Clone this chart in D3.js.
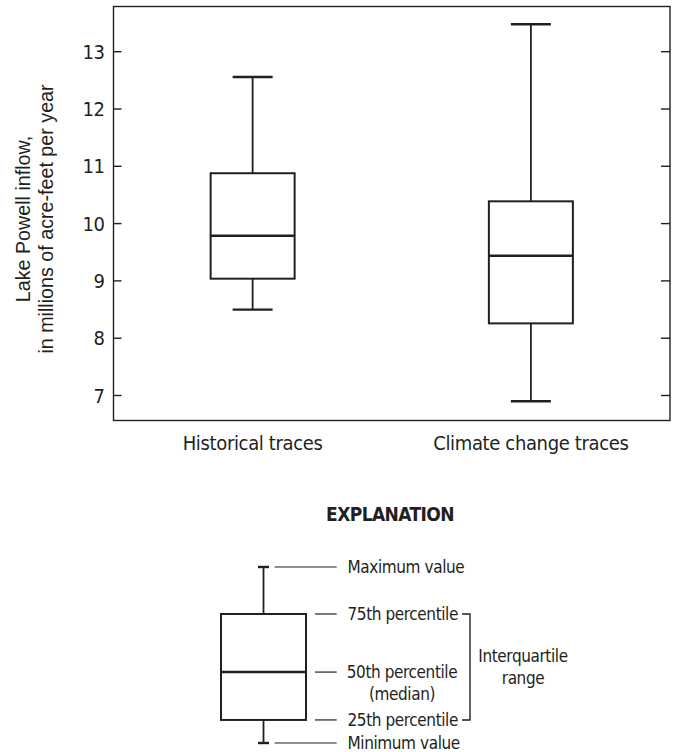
<!DOCTYPE html>
<html>
<head>
<meta charset="utf-8">
<script src="https://cdn.jsdelivr.net/npm/d3@7"></script>
<style>
  html, body { margin: 0; padding: 0; background: #fff; }
  svg { display: block; }
  .cond { font-family: "Liberation Sans Narrow", "DejaVu Sans Condensed", "Roboto", sans-serif; }
  .reg { font-family: "Liberation Sans", "Arial", sans-serif; }
</style>
</head>
<body>
<svg id="chart" width="678" height="752"></svg>
<script>
// ---- data ----
const categories = ["Historical traces", "Climate change traces"];
const minValues    = [8.49, 6.89];
const q1Values     = [9.03, 8.25];
const medianValues = [9.78, 9.43];
const q3Values     = [10.87, 10.38];
const maxValues    = [12.55, 13.47];
const yTicks = [7, 8, 9, 10, 11, 12, 13];
const yDomain = [6.555, 13.78];
const yTitleLines = ["Lake Powell inflow,", "in millions of acre-feet per year"];

// explanation (legend) sample box, in arbitrary units
const legendStats = { min: 0, q1: 1.31, median: 4.03, q3: 7.33, max: 10 };
const legendLabels = [
  { key: "max", lines: ["Maximum value"] },
  { key: "q3", lines: ["75th percentile"] },
  { key: "median", lines: ["50th percentile", "(median)"] },
  { key: "q1", lines: ["25th percentile"] },
  { key: "min", lines: ["Minimum value"] }
];

const ink = "#231f20";
const svg = d3.select("#chart");

// ---- main plot ----
const plot = { left: 113.5, right: 670, top: 6.5, bottom: 420.5 };
const x = d3.scaleBand().domain(categories).range([plot.left, plot.right]).paddingInner(0).paddingOuter(0);
const y = d3.scaleLinear().domain(yDomain).range([plot.bottom, plot.top]);

const boxW = 84, capW = 40;

// frame
svg.append("rect")
  .attr("x", plot.left).attr("y", plot.top)
  .attr("width", plot.right - plot.left).attr("height", plot.bottom - plot.top)
  .attr("fill", "none").attr("stroke", ink).attr("stroke-width", 1.4);

// left axis
const yAxisL = d3.axisLeft(y).tickValues(yTicks).tickSizeInner(-8).tickSizeOuter(0).tickPadding(9).tickFormat(d3.format("d"));
const gL = svg.append("g").attr("transform", `translate(${plot.left},0)`).call(yAxisL);
gL.select(".domain").remove();
gL.selectAll(".tick line").attr("stroke", ink).attr("stroke-width", 1.4);
gL.selectAll(".tick text").attr("class", "cond").attr("font-size", 20).attr("letter-spacing", -0.5).attr("fill", ink).attr("dy", "0.35em");

// right axis ticks
const yAxisR = d3.axisRight(y).tickValues(yTicks).tickSizeInner(-9).tickSizeOuter(0).tickFormat("");
const gR = svg.append("g").attr("transform", `translate(${plot.right},0)`).call(yAxisR);
gR.select(".domain").remove();
gR.selectAll(".tick line").attr("stroke", ink).attr("stroke-width", 1.4);

// category labels
svg.append("g").selectAll("text").data(categories).join("text")
  .attr("class", "cond")
  .attr("x", d => x(d) + x.bandwidth() / 2)
  .attr("y", 450)
  .attr("text-anchor", "middle")
  .attr("font-size", 20)
  .attr("letter-spacing", -0.35)
  .attr("fill", ink)
  .text(d => d);

// y title
const yt = svg.append("text").attr("class", "reg")
  .attr("transform", `translate(0,219) rotate(-90)`)
  .attr("text-anchor", "middle").attr("font-size", 19.7).attr("fill", ink);
yTitleLines.forEach((t, i) => {
  yt.append("tspan").attr("x", 0).attr("y", 30 + i * 23).text(t);
});

// boxes
const boxes = categories.map((c, i) => ({
  cat: c, min: minValues[i], q1: q1Values[i], median: medianValues[i], q3: q3Values[i], max: maxValues[i]
}));

function drawBox(g, d, cx, ys, bw, cw, opts) {
  g.append("line").attr("x1", cx).attr("x2", cx).attr("y1", ys(d.max)).attr("y2", ys(d.q3))
    .attr("stroke", ink).attr("stroke-width", opts.whisker);
  g.append("line").attr("x1", cx).attr("x2", cx).attr("y1", ys(d.q1)).attr("y2", ys(d.min))
    .attr("stroke", ink).attr("stroke-width", opts.whisker);
  [d.max, d.min].forEach(v => {
    g.append("line").attr("x1", cx - cw / 2).attr("x2", cx + cw / 2).attr("y1", ys(v)).attr("y2", ys(v))
      .attr("stroke", ink).attr("stroke-width", opts.cap);
  });
  g.append("rect").attr("x", cx - bw / 2).attr("y", ys(d.q3))
    .attr("width", bw).attr("height", ys(d.q1) - ys(d.q3))
    .attr("fill", "none").attr("stroke", ink).attr("stroke-width", opts.box);
  g.append("line").attr("x1", cx - bw / 2).attr("x2", cx + bw / 2)
    .attr("y1", ys(d.median)).attr("y2", ys(d.median))
    .attr("stroke", ink).attr("stroke-width", opts.median);
}

const gBoxes = svg.append("g");
boxes.forEach(d => {
  drawBox(gBoxes, d, x(d.cat) + x.bandwidth() / 2, y, boxW, capW, { whisker: 1.8, cap: 2.4, box: 2, median: 2.6 });
});

// ---- explanation ----
svg.append("text").attr("class", "cond")
  .attr("x", 390).attr("y", 521)
  .attr("text-anchor", "middle").attr("font-size", 19).attr("letter-spacing", -0.6)
  .attr("font-weight", "bold").attr("fill", ink)
  .text("EXPLANATION");

const ly = d3.scaleLinear().domain([legendStats.min, legendStats.max]).range([743, 567]);
const lcx = 263.5, lbw = 85, lcw = 11;
const gLeg = svg.append("g");
drawBox(gLeg, legendStats, lcx, ly, lbw, lcw, { whisker: 1.8, cap: 2.4, box: 2, median: 2.6 });

const leaderEnd = 336.7, textX = 347.5;
const legFS = 17, legLS = -0.4;
legendLabels.forEach(l => {
  const yy = ly(legendStats[l.key]);
  const isWhisker = (l.key === "max" || l.key === "min");
  gLeg.append("line")
    .attr("x1", isWhisker ? 274.5 : 315).attr("x2", leaderEnd)
    .attr("y1", yy).attr("y2", yy)
    .attr("stroke", ink).attr("stroke-width", 1.2);
  if (l.lines.length === 1) {
    gLeg.append("text").attr("class", "cond")
      .attr("x", textX).attr("y", yy).attr("dy", "0.35em")
      .attr("font-size", legFS).attr("letter-spacing", legLS).attr("fill", ink).text(l.lines[0]);
  } else {
    const t = gLeg.append("text").attr("class", "cond")
      .attr("text-anchor", "middle").attr("font-size", legFS).attr("letter-spacing", legLS).attr("fill", ink);
    l.lines.forEach((s, i) => {
      t.append("tspan").attr("x", 402).attr("y", yy).attr("dy", (0.35 + i * 1.3) + "em").text(s);
    });
  }
});

// interquartile bracket
const bx = 470;
gLeg.append("path")
  .attr("d", `M${bx - 8},${ly(legendStats.q3)} H${bx} V${ly(legendStats.q1)} H${bx - 8}`)
  .attr("fill", "none").attr("stroke", ink).attr("stroke-width", 1.4);
const iq = gLeg.append("text").attr("class", "cond").attr("text-anchor", "middle")
  .attr("font-size", legFS).attr("letter-spacing", legLS).attr("fill", ink);
iq.append("tspan").attr("x", 523).attr("y", 661.5).text("Interquartile");
iq.append("tspan").attr("x", 523).attr("y", 684).text("range");
</script>
</body>
</html>
